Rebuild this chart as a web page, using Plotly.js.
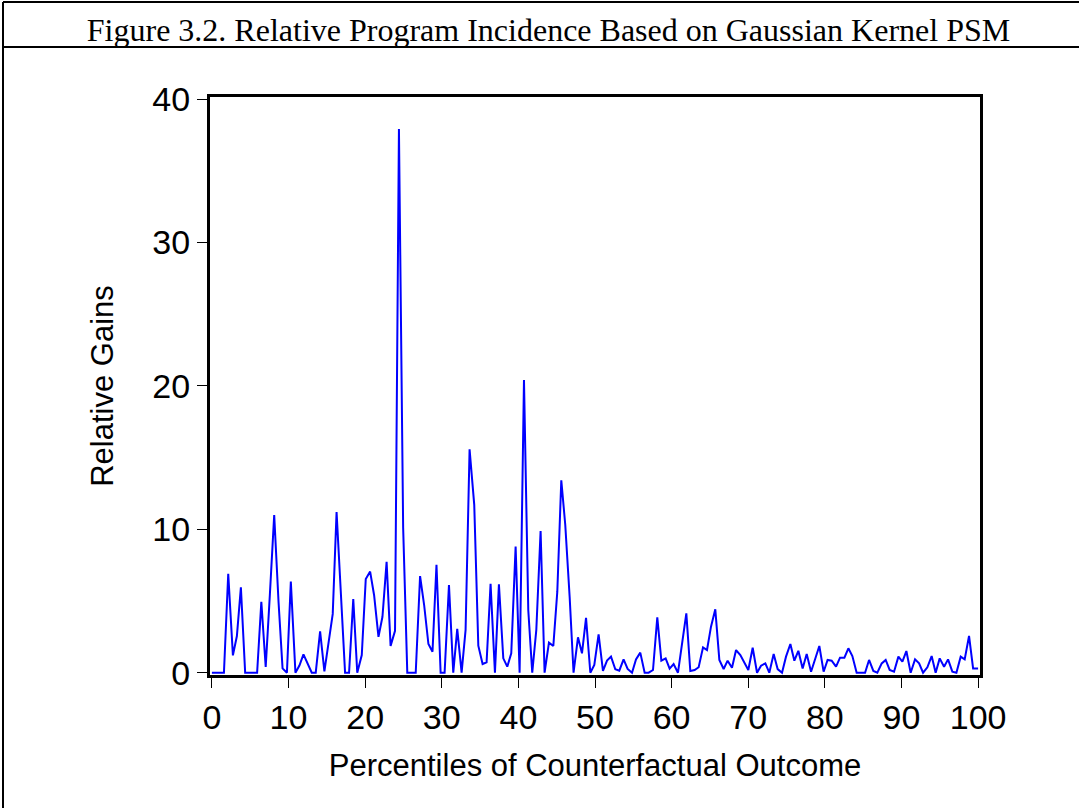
<!DOCTYPE html>
<html>
<head>
<meta charset="utf-8">
<script src="https://cdn.plot.ly/plotly-3.0.1.min.js"></script>
<style>
  html, body { margin: 0; padding: 0; background: #ffffff; }
  #chart { width: 1079px; height: 808px; }
</style>
</head>
<body>
<div id="chart"></div>
<script>
// Percentile positions (x) and relative gains (y)
var percentiles = [0, 0.53, 1.05, 1.57, 2.13, 2.74, 3.26, 3.78, 4.34, 4.86, 5.38, 5.9, 6.45, 7.02, 7.57, 8.13, 8.7, 9.22, 9.79, 10.3,
  10.9, 11.42, 11.95, 12.47, 13.03, 13.55, 14.12, 14.68, 15.22, 15.77, 16.27, 16.86, 17.38, 17.9, 18.45, 18.97, 19.56, 20.08, 20.65, 21.17,
  21.74, 22.26, 22.8, 23.32, 23.9, 24.41, 24.96, 25.5, 26.05, 26.6, 27.17, 27.7, 28.26, 28.79, 29.31, 29.85, 30.37, 30.94, 31.5, 32.02,
  32.59, 33.11, 33.63, 34.24, 34.77, 35.33, 35.85, 36.37, 36.94, 37.46, 38.03, 38.55, 39.07, 39.64, 40.16, 40.73, 41.29, 41.81, 42.34, 42.9,
  43.42, 43.99, 44.56, 45.08, 45.6, 46.12, 46.69, 47.2, 47.78, 48.3, 48.83, 49.39, 49.91, 50.47, 51.04, 51.57, 52.09, 52.65, 53.17, 53.73,
  54.26, 54.83, 55.35, 55.91, 56.48, 57.0, 57.57, 58.13, 58.66, 59.22, 59.74, 60.26, 60.83, 61.36, 61.92, 62.44, 63.0, 63.53, 64.1, 64.62,
  65.14, 65.7, 66.23, 66.79, 67.31, 67.88, 68.41, 68.97, 69.49, 70.01, 70.58, 71.15, 71.67, 72.23, 72.75, 73.32, 73.84, 74.41, 74.93, 75.5,
  76.02, 76.54, 77.1, 77.63, 78.2, 78.76, 79.28, 79.84, 80.36, 80.89, 81.46, 81.98, 82.55, 83.07, 83.59, 84.15, 84.68, 85.25, 85.77, 86.33,
  86.85, 87.42, 87.94, 88.46, 89.03, 89.6, 90.12, 90.64, 91.2, 91.77, 92.3, 92.82, 93.38, 93.94, 94.46, 94.99, 95.56, 96.08, 96.64, 97.17,
  97.73, 98.25, 98.82, 99.35, 100];
var relativeGains = [0, 0, 0, 0, 6.9, 1.21, 2.56, 5.95, 0, 0, 0, 0, 4.95, 0.4, 5.5, 11.0, 4.9, 0.3, 0, 6.35,
  0, 0.5, 1.28, 0.7, 0, 0, 2.88, 0.1, 2.0, 4.1, 11.2, 5.1, 0, 0, 5.14, 0, 1.23, 6.53, 7.05, 5.4,
  2.5, 3.9, 7.73, 1.87, 2.92, 37.9, 10.1, 0, 0, 0, 6.74, 4.72, 2.0, 1.46, 7.53, 0, 0, 6.12, 0, 3.05,
  0, 2.98, 15.58, 11.7, 1.88, 0.6, 0.73, 6.2, 0, 6.16, 1.0, 0.42, 1.35, 8.79, 0, 20.4, 4.37, 0, 2.98, 9.88,
  0, 2.1, 1.86, 5.65, 13.42, 10.3, 5.3, 0, 2.47, 1.35, 3.82, 0, 0.54, 2.68, 0.12, 0.84, 1.12, 0.24, 0.14, 0.93,
  0.26, 0, 0.93, 1.4, 0, 0, 0.19, 3.86, 0.84, 1.0, 0.28, 0.6, 0, 2.1, 4.14, 0.12, 0.19, 0.38, 1.77, 1.58,
  3.21, 4.42, 0.89, 0.26, 0.84, 0.35, 1.58, 1.23, 0.65, 0.19, 1.74, 0, 0.49, 0.65, 0, 1.3, 0.25, 0, 1.12, 2.0,
  0.84, 1.53, 0.3, 1.3, 0.07, 0.93, 1.86, 0.07, 0.89, 0.84, 0.42, 1.05, 1.05, 1.7, 1.16, 0, 0, 0, 0.89, 0.12,
  0, 0.65, 0.89, 0.19, 0.07, 1.12, 0.77, 1.51, 0, 0.93, 0.65, 0, 0.38, 1.16, 0, 1.0, 0.42, 0.93, 0.07, 0,
  1.12, 0.93, 2.56, 0.3, 0.3];

var xTicks = [0, 10, 20, 30, 40, 50, 60, 70, 80, 90, 100];
var yTicks = [0, 10, 20, 30, 40];

var chartTitle = "Figure 3.2. Relative Program Incidence Based on Gaussian Kernel PSM";
var xTitle = "Percentiles of Counterfactual Outcome";
var yTitle = "Relative Gains";

var W = 1079, H = 808;
var M = { l: 210, r: 99, t: 97, b: 133 };
var pw = W - M.l - M.r, ph = H - M.t - M.b;
function px2x(px) { return (px - M.l) / pw; }
function py2y(py) { return (H - M.b - py) / ph; }

var trace = {
  x: percentiles,
  y: relativeGains,
  type: "scatter",
  mode: "lines",
  line: { color: "#0000ff", width: 2 },
  hoverinfo: "x+y"
};

var sans = "Liberation Sans, Arial, sans-serif";

var layout = {
  width: W,
  height: H,
  margin: M,
  paper_bgcolor: "#ffffff",
  plot_bgcolor: "#ffffff",
  showlegend: false,
  title: {
    text: chartTitle,
    font: { family: "Liberation Serif, Times New Roman, serif", size: 32, color: "#000" },
    x: 548.5 / W, xref: "container", xanchor: "center",
    y: 1 - 30 / H, yref: "container", yanchor: "middle"
  },
  xaxis: {
    range: [-0.25, 100.25],
    tickvals: xTicks,
    ticktext: xTicks.map(String),
    ticks: "outside",
    ticklen: 10,
    tickwidth: 1,
    tickcolor: "#000",
    showline: true,
    linewidth: 3,
    linecolor: "#000",
    mirror: true,
    showgrid: false,
    zeroline: false,
    tickfont: { family: sans, size: 34, color: "#000" },
    title: { text: xTitle, font: { family: sans, size: 31, color: "#000" }, standoff: 20 }
  },
  yaxis: {
    range: [-0.16, 40.14],
    tickvals: yTicks,
    ticktext: yTicks.map(String),
    ticks: "outside",
    ticklen: 10,
    tickwidth: 1,
    tickcolor: "#000",
    showline: true,
    linewidth: 3,
    linecolor: "#000",
    mirror: true,
    showgrid: false,
    zeroline: false,
    tickfont: { family: sans, size: 34, color: "#000" },
    title: { text: yTitle, font: { family: sans, size: 31, color: "#000" }, standoff: 30 }
  },
  shapes: [
    // left border of the frame
    { type: "line", xref: "paper", yref: "paper",
      x0: px2x(3), x1: px2x(3), y0: py2y(808), y1: py2y(2),
      line: { color: "#000", width: 2 } },
    // top border
    { type: "line", xref: "paper", yref: "paper",
      x0: px2x(3), x1: px2x(1079), y0: py2y(2), y1: py2y(2),
      line: { color: "#000", width: 2 } },
    // line under the title
    { type: "line", xref: "paper", yref: "paper",
      x0: px2x(3), x1: px2x(1079), y0: py2y(47), y1: py2y(47),
      line: { color: "#000", width: 2 } }
  ]
};

Plotly.newPlot("chart", [trace], layout, { displayModeBar: false, responsive: false });
</script>
</body>
</html>
